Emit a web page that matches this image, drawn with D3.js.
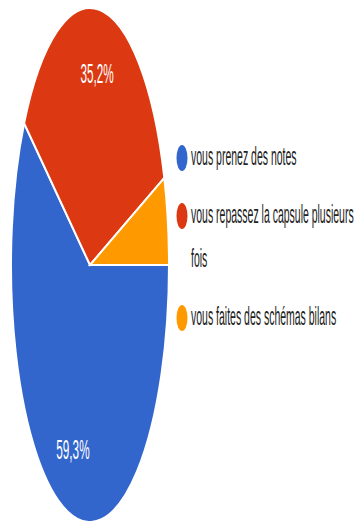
<!DOCTYPE html>
<html>
<head>
<meta charset="utf-8">
<script src="https://cdn.jsdelivr.net/npm/d3@7"></script>
<style>
  body { margin: 0; background: #fff; }
  text { font-family: Arial, "Liberation Sans", sans-serif; }
</style>
</head>
<body>
<script>
// Data
var categories = ["vous prenez des notes", "vous repassez la capsule plusieurs fois", "vous faites des schémas bilans"];
var percents = [59.3, 35.2, 5.5];
var colors = ["#3366cc", "#dc3912", "#ff9900"];

var width = 364, height = 521;

// the picture is squeezed sideways, so text gets a x scale
var sx = 0.42;
var cx = 90, cy = 265;
var ry = 257, rx = 79;

var svg = d3.select("body").append("svg")
	.attr("width", width)
	.attr("height", height);

svg.append("rect")
	.attr("width", width)
	.attr("height", height)
	.attr("fill", "#fff");

var pie = d3.pie()
	.sort(null)
	.value(function(d) { return d; })
	.startAngle(Math.PI / 2)
	.endAngle(Math.PI / 2 + 2 * Math.PI);

var arcs = pie(percents);

var arc = d3.arc()
	.innerRadius(0)
	.outerRadius(ry);

var labelArc = d3.arc()
	.innerRadius(ry * 0.75)
	.outerRadius(ry * 0.75);

// pie drawn as a circle then stretched into the ellipse
var pieG = svg.append("g")
	.attr("transform", "translate(" + cx + "," + cy + ") scale(" + (rx / ry) + ",1)");

pieG.selectAll("path")
	.data(arcs)
	.enter().append("path")
	.attr("d", arc)
	.attr("fill", function(d, i) { return colors[i]; })
	.attr("stroke", "#fff")
	.attr("stroke-width", 2)
	.attr("vector-effect", "non-scaling-stroke");

// percent labels, skip the small slice
svg.selectAll(".pct")
	.data(arcs.filter(function(d) { return d.data > 10; }))
	.enter().append("text")
	.attr("class", "pct")
	.attr("transform", function(d) {
		var c = labelArc.centroid(d);
		return "translate(" + (cx + c[0] * rx / ry) + "," + (cy + c[1]) + ") scale(" + sx + ",1)";
	})
	.attr("text-anchor", "middle")
	.attr("dy", "0.35em")
	.attr("fill", "#fff")
	.attr("font-size", 28)
	.text(function(d) { return String(d.data).replace(".", ",") + "%"; });

// legend
var legX = 191, dotX = 182, maxW = 175;
var lineH = 44, itemGap = 58;
var y = 165;
var fontSize = 25;

categories.forEach(function(name, i) {
	var g = svg.append("g");
	g.append("ellipse")
		.attr("cx", dotX)
		.attr("cy", y - 7)
		.attr("rx", 5.5)
		.attr("ry", 13)
		.attr("fill", colors[i]);

	// wrap words on measured width
	var words = name.split(" ");
	var lines = [];
	var cur = "";
	var probe = g.append("text").attr("font-size", fontSize);
	words.forEach(function(w) {
		var t = cur ? cur + " " + w : w;
		probe.text(t);
		if (probe.node().getComputedTextLength() * sx > maxW && cur) {
			lines.push(cur);
			cur = w;
		} else {
			cur = t;
		}
	});
	lines.push(cur);
	probe.remove();

	lines.forEach(function(l, j) {
		g.append("text")
			.attr("transform", "translate(" + legX + "," + (y + j * lineH) + ") scale(" + sx + ",1)")
			.attr("font-size", fontSize)
			.attr("fill", "#222")
			.text(l);
	});
	y += (lines.length - 1) * lineH + itemGap;
});
</script>
</body>
</html>
